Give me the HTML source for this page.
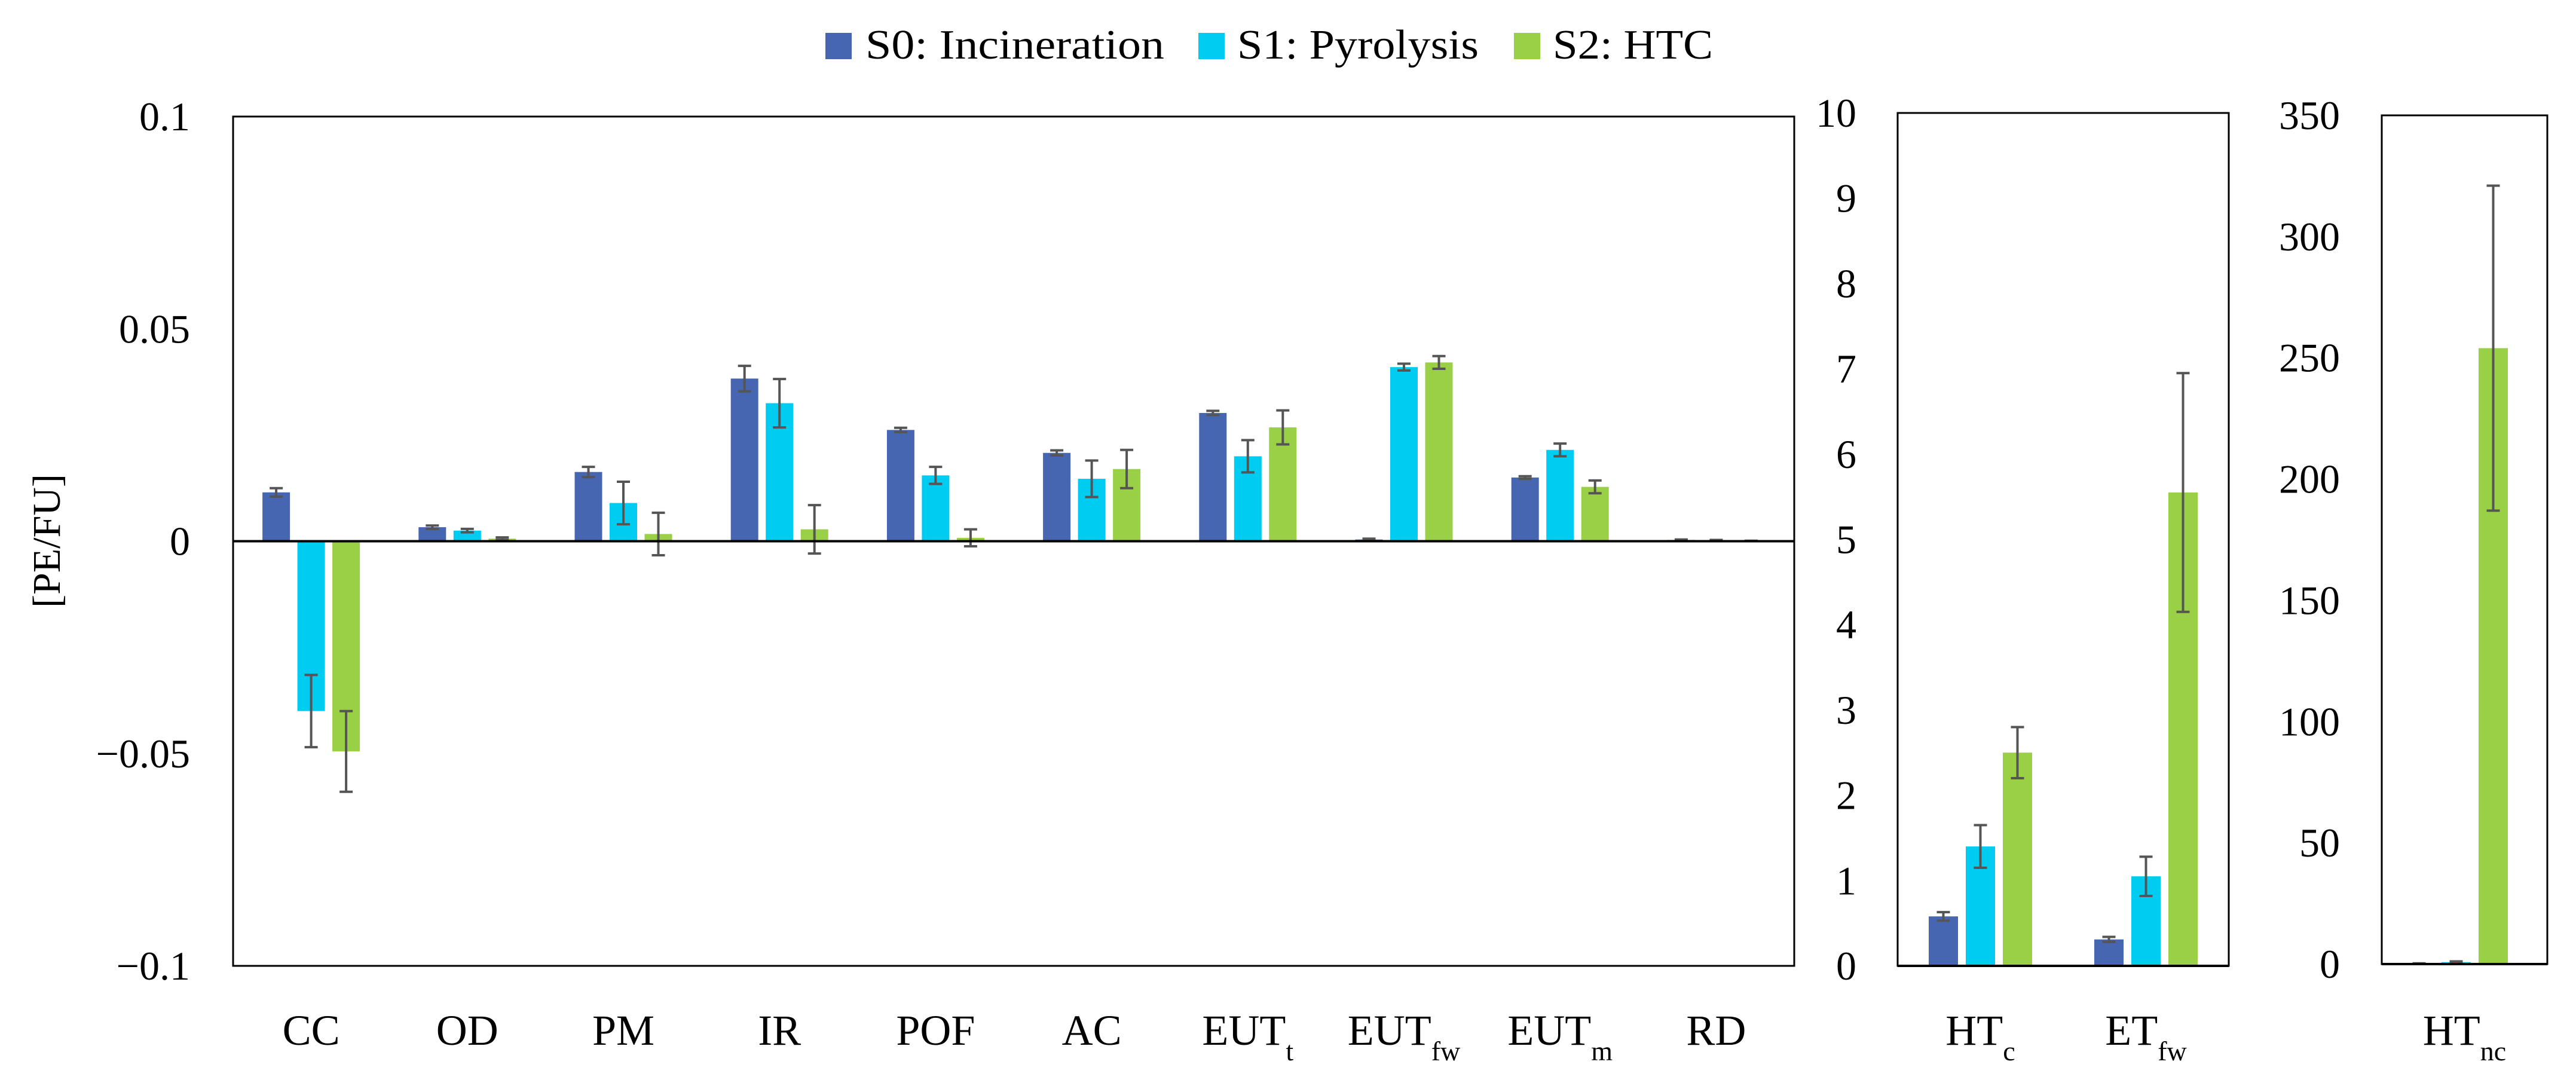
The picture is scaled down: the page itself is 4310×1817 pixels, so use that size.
<!DOCTYPE html>
<html><head><meta charset="utf-8"><style>
html,body{margin:0;padding:0;background:#fff;}
svg{display:block;font-family:"Liberation Serif",serif;}
</style></head><body>
<svg id="chart" width="4310" height="1817" viewBox="0 0 4310 1817"></svg>
<script>
const colors = ['#4666b2', '#00ccf2', '#99d045'];
const seriesNames = ['S0: Incineration', 'S1: Pyrolysis', 'S2: HTC'];
// Panel 1 (left axis, -0.1..0.1)
const cats1 = [['CC',''],['OD',''],['PM',''],['IR',''],['POF',''],['AC',''],['EUT','t'],['EUT','fw'],['EUT','m'],['RD','']];
const s0v1 = [0.0115,0.0033,0.0163,0.0383,0.0262,0.0208,0.0302,0.0004,0.0150,0.0003];
const s1v1 = [-0.0400,0.0025,0.0090,0.0325,0.0155,0.0147,0.0200,0.0410,0.0215,0.0002];
const s2v1 = [-0.0495,0.0006,0.0017,0.0028,0.0008,0.0170,0.0268,0.0421,0.0128,0.0001];
const s0e1 = [0.0010,0.0004,0.0012,0.0030,0.0005,0.0006,0.0005,0.0002,0.0003,0.0001];
const s1e1 = [0.0085,0.0004,0.0050,0.0057,0.0020,0.0043,0.0038,0.0008,0.0015,0.0001];
const s2e1 = [0.0095,0.0003,0.0050,0.0057,0.0020,0.0045,0.0040,0.0015,0.0015,0.0000];
const ticks1 = [-0.1,-0.05,0,0.05,0.1];
const tickLabels1 = ['\u22120.1','\u22120.05','0','0.05','0.1'];
// Panel 2 (0..10)
const cats2 = [['HT','c'],['ET','fw']];
const s0v2 = [0.58,0.31];
const s1v2 = [1.40,1.05];
const s2v2 = [2.50,5.55];
const s0e2 = [0.05,0.03];
const s1e2 = [0.25,0.23];
const s2e2 = [0.30,1.40];
const ticks2 = [0,1,2,3,4,5,6,7,8,9,10];
// Panel 3 (0..350)
const cats3 = [['HT','nc']];
const s0v3 = [0.2];
const s1v3 = [0.8];
const s2v3 = [254];
const s0e3 = [0.1];
const s1e3 = [0.3];
const s2e3 = [67];
const ticks3 = [0,50,100,150,200,250,300,350];

const NS='http://www.w3.org/2000/svg';
const svg=document.getElementById('chart');
function mk(tag,attrs,parent){const e=document.createElementNS(NS,tag);for(const k in attrs)e.setAttribute(k,attrs[k]);(parent||svg).appendChild(e);return e;}

// legend
const legX=[1381,2005,2533], legTX=[1448,2070,2598], legW=[500,404,268];
for(let i=0;i<3;i++){
  const r=mk('rect',{x:legX[i],y:55,width:44,height:44,fill:colors[i]});
  
  
  const t=mk('text',{x:legTX[i],y:98,'font-size':70,textLength:legW[i],lengthAdjust:'spacingAndGlyphs'});
  t.textContent=seriesNames[i];
  
  
}

// y title
const yt=mk('text',{x:0,y:0,'font-size':66,'text-anchor':'middle',transform:'translate(100,905) rotate(-90)'});
yt.textContent='[PE/FU]';



function panel(p){
  const g=mk('g',{});
  
  
  const y=v=>p.top+(p.max-v)/(p.max-p.min)*(p.bottom-p.top);
  const n=p.cats.length, cw=(p.right-p.left)/n;
  const vals=[p.v0,p.v1,p.v2], errs=[p.e0,p.e1,p.e2];
  // bars
  for(let c=0;c<n;c++){
    const cx=p.left+cw*(c+0.5)+(p.shift||0);
    for(let s=0;s<3;s++){
      const bx=cx+(s-1)*p.step-p.bw/2;
      const v=vals[s][c];
      const y0=y(0), y1=y(v);
      const r=mk('rect',{x:bx,y:Math.min(y0,y1),width:p.bw,height:Math.abs(y1-y0),fill:colors[s]},g);
      
      
      const e=errs[s][c], mx=bx+p.bw/2;
      const ya=y(v+e), yb=y(v-e);
      const eb=mk('path',{d:`M${mx},${ya}V${yb}M${mx-11},${ya}H${mx+11}M${mx-11},${yb}H${mx+11}`,stroke:'#555',"stroke-width":4,fill:'none'},g);
      
      
    }
    const t=mk('text',{x:p.left+cw*(c+0.5),y:1748,'font-size':72,'text-anchor':'middle'},g);
    
    
    const a=mk('tspan',{},t);a.textContent=p.cats[c][0];
    if(p.cats[c][1]){const b=mk('tspan',{'font-size':46,dy:26},t);b.textContent=p.cats[c][1];}
  }
  // zero line
  const z=mk('line',{x1:p.left,x2:p.right,y1:y(0),y2:y(0),stroke:'#000','stroke-width':4},g);
  
  
  // frame
  const f=mk('rect',{x:p.left,y:p.top,width:p.right-p.left,height:p.bottom-p.top,fill:'none',stroke:'#000','stroke-width':3},g);
  
  
  // ticks
  p.ticks.forEach((tv,i)=>{
    const t=mk('text',{x:p.tickX,y:y(tv)+23,'font-size':68,'text-anchor':'end'},g);
    t.textContent=p.tickLabels?p.tickLabels[i]:String(tv);
    
    
  });
}
panel({name:'panel-midpoint',left:390,right:3002,top:195,bottom:1616,min:-0.1,max:0.1,cats:cats1,v0:s0v1,v1:s1v1,v2:s2v1,e0:s0e1,e1:s1e1,e2:s2e1,ticks:ticks1,tickLabels:tickLabels1,tickX:318,bw:46,step:58.5});
panel({name:'panel-toxicity',left:3175,right:3729,top:189,bottom:1616,min:0,max:10,cats:cats2,v0:s0v2,v1:s1v2,v2:s2v2,e0:s0e2,e1:s1e2,e2:s2e2,ticks:ticks2,tickX:3106,bw:49,step:62});
panel({name:'panel-htnc',left:3985,right:4262,top:193,bottom:1613,min:0,max:350,cats:cats3,v0:s0v3,v1:s1v3,v2:s2v3,e0:s0e3,e1:s1e3,e2:s2e3,ticks:ticks3,tickX:3915,bw:49,step:62,shift:-14});
</script>
</body></html>
